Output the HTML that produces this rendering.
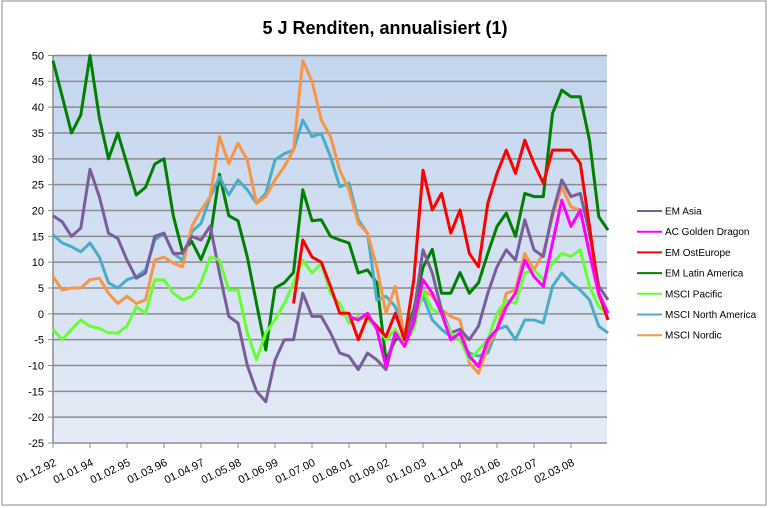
<!DOCTYPE html>
<html><head><meta charset="utf-8"><style>
body{margin:0;background:#fff;font-family:"Liberation Sans",sans-serif}
svg{display:block}
</style></head><body>
<svg id="chart" width="770" height="508" viewBox="0 0 770 508" xmlns="http://www.w3.org/2000/svg">
<defs><linearGradient id="bg" x1="0" y1="0" x2="0" y2="1"><stop offset="0" stop-color="#c3d5ee"/><stop offset="1" stop-color="#e4ebf6"/></linearGradient></defs>
<rect x="2" y="1" width="764" height="504" fill="#fff" stroke="#8c8c8c" stroke-width="1"/>
<text x="385" y="34" text-anchor="middle" font-size="18" font-weight="bold" fill="#000">5 J Renditen, annualisiert (1)</text>
<rect x="53" y="55.5" width="554" height="387.5" fill="url(#bg)"/>
<g id="grid"></g><g id="yaxis"></g><g id="xaxis"></g><g id="series"></g><g id="legend"></g>
</svg>
<script>
const xTickLabels=["01.12.92","01.01.94","01.02.95","01.03.96","01.04.97","01.05.98","01.06.99","01.07.00","01.08.01","01.09.02","01.10.03","01.11.04","02.01.06","02.02.07","02.03.08"];
const yTicks=[50,45,40,35,30,25,20,15,10,5,0,-5,-10,-15,-20,-25];
const seriesNames=["EM Asia","AC Golden Dragon","EM OstEurope","EM Latin America","MSCI Pacific","MSCI North America","MSCI Nordic"];
const seriesColors=["#7b5c9c","#ff00ff","#ff0000","#008000","#66ff33","#4bacc6","#f79646"];
const emAsia=[19,17.8,15,16.6,28,22.7,15.6,14.6,10.4,6.9,7.9,15,15.6,11.7,11.7,15,14.3,17,7.9,-0.5,-1.8,-10,-15,-17,-9,-5,-5,4,-0.5,-0.5,-3.7,-7.6,-8.2,-10.8,-7.6,-8.9,-10.8,-3.7,-5,0.1,12.4,7.9,0.8,-3.7,-3,-5,-2.4,4,9.1,12.4,10.4,18.2,12.4,11.1,19.5,25.9,22.7,23.3,15.6,5.3,2.7];
const acGoldenDragon=[null,null,null,null,null,null,null,null,null,null,null,null,null,null,null,null,null,null,null,null,null,null,null,null,null,null,null,null,null,null,null,null,-0.5,-1.2,0.1,-3,-10.2,-3.7,-6.3,-1.8,6.6,4,0.1,-5,-3.7,-8.2,-10.2,-5,-3,1.4,4,10.4,7.2,5.3,13.7,22,16.9,20.1,11.7,4,0.1];
const emOstEurope=[null,null,null,null,null,null,null,null,null,null,null,null,null,null,null,null,null,null,null,null,null,null,null,null,null,null,2,14.3,11,10,5.3,0.1,0.1,-5,-0.5,-2.4,-4.4,0.1,-5,6.6,27.8,20.1,23.3,15.6,20.1,11.7,9.1,21.4,27.2,31.7,27.2,33.6,29.1,25.3,31.7,31.7,31.7,29.1,16.9,4,-1.2];
const emLatinAmerica=[49,42,35,38.5,50,38,30,35,29,23,24.5,29,30,19,12,14,10.5,15,27,19,18,11,2,-7,5,6,8,24,18,18.2,15,14.3,13.7,7.9,8.5,6,-9,-5,-4.4,0.8,9,12.5,4,4,8,4,6,11.7,16.9,19.5,15,23.3,22.7,22.7,38.8,43.3,42,42,33.6,18.8,16.2];
const msciPacific=[-3,-5,-3,-1.2,-2.4,-2.8,-3.7,-3.7,-2.4,1.4,0.1,6.6,6.6,4,2.7,3.4,6,11,10.4,4.6,4.6,-3.7,-8.9,-3.7,-1.2,2,6,10.4,7.9,9.8,4,2,-1.8,-0.5,-1.2,-2.4,-5,-3,-5.7,-3,4.6,0.8,0.1,-3.7,-5,-8.9,-7,-5,0.1,2.7,2,7.9,8.5,6.6,9.8,11.7,11.1,12.4,5.3,1.4,0.1];
const msciNorthAmerica=[15.3,13.7,13,12,13.7,11,6,5,6.6,7.2,8.5,14.3,15.6,11.7,10.4,15.9,17.5,22.7,26.5,23,25.9,24,21.4,23.3,29.8,31,31.7,37.5,34.3,34.9,30.4,24.6,25.3,18.2,15.6,2.7,3.4,1.4,-3.7,-0.5,3.4,-1.2,-3,-4.4,-5,-7.6,-8.2,-7.6,-3,-2.4,-5,-1.2,-1.2,-1.8,5.3,7.9,6,4.6,2.7,-2.4,-3.7];
const msciNordic=[7.2,4.6,5,5,6.6,6.9,4,2,3.4,2,2.7,10.4,11,9.8,9.1,16.9,20.1,22.7,34.3,29.1,33,29.8,21.4,22.7,25.9,28.5,31.7,49,45,37.5,34.3,27.8,24,17.5,15.6,9.1,0.1,5.3,-4.4,-1.8,4.6,3.4,0.8,-0.5,-1.2,-9.5,-11.5,-6.3,-3,4,4.6,11.7,8.5,11.7,18.8,24.6,20.7,20.1,11.7,3.4,0.1];
const allSeries=[emAsia,acGoldenDragon,emOstEurope,emLatinAmerica,msciPacific,msciNorthAmerica,msciNordic];
const seriesKeys=["em-asia","ac-golden-dragon","em-osteurope","em-latin-america","msci-pacific","msci-north-america","msci-nordic"];
const NS="http://www.w3.org/2000/svg";
const X0=53,X1=607,Y0=55.5,Y1=443,STEP=9.25,TICKEVERY=4;
function xPos(i){return X0+i*STEP;}
function yPos(v){return Y0+(50-v)*(Y1-Y0)/75;}
function mk(tag,attrs,parent){const e=document.createElementNS(NS,tag);for(const k in attrs)e.setAttribute(k,attrs[k]);parent.appendChild(e);return e;}
const grid=document.getElementById('grid'),ya=document.getElementById('yaxis'),xa=document.getElementById('xaxis'),sg=document.getElementById('series'),lg=document.getElementById('legend');
yTicks.forEach(v=>{
  const y=yPos(v);
  if(v>-25){const l=mk('line',{x1:X0,x2:X1,y1:y,y2:y,stroke:'#8c8c8c','stroke-width':1.5},grid);
  
  }
  const tk=mk('line',{x1:X0-5,x2:X0,y1:y,y2:y,stroke:'#8c8c8c','stroke-width':1},ya);
  
  
  const t=mk('text',{x:X0-9,y:y+4,'text-anchor':'end','font-size':11,fill:'#000'},ya);
  t.textContent=v;
  
  
});
const ax=mk('line',{x1:X0,x2:X0,y1:Y0,y2:Y1,stroke:'#8c8c8c','stroke-width':1.5},ya);


const bx=mk('line',{x1:X0,x2:X1,y1:Y1,y2:Y1,stroke:'#8c8c8c','stroke-width':1.5},xa);


xTickLabels.forEach((lab,k)=>{
  const x=xPos(k*TICKEVERY);
  const tk=mk('line',{x1:x,x2:x,y1:Y1,y2:Y1+5,stroke:'#8c8c8c','stroke-width':1},xa);
  
  
  const t=mk('text',{x:x+4,y:Y1+22,'text-anchor':'end','font-size':11,fill:'#000',transform:`rotate(-26 ${x+4} ${Y1+22})`},xa);
  t.textContent=lab;
  
  
});
const order=[3,5,6,0,4,2,1];
order.forEach(s=>{
  const data=allSeries[s];let d='',pen=false;
  data.forEach((v,i)=>{if(v===null){pen=false;return;}d+=(pen?'L':'M')+xPos(i).toFixed(1)+' '+yPos(v).toFixed(1)+' ';pen=true;});
  const p=mk('path',{d:d,fill:'none',stroke:seriesColors[s],'stroke-width':3,'stroke-linejoin':'round'},sg);
  
  
});
seriesNames.forEach((n,k)=>{
  const y=211+k*20.7;
  const l=mk('line',{x1:637,x2:662,y1:y,y2:y,stroke:seriesColors[k],'stroke-width':2},lg);
  
  
  const t=mk('text',{x:665,y:y+3.5,'font-size':10,fill:'#000'},lg);
  t.textContent=n;
  
  
});
</script>
</body></html>
